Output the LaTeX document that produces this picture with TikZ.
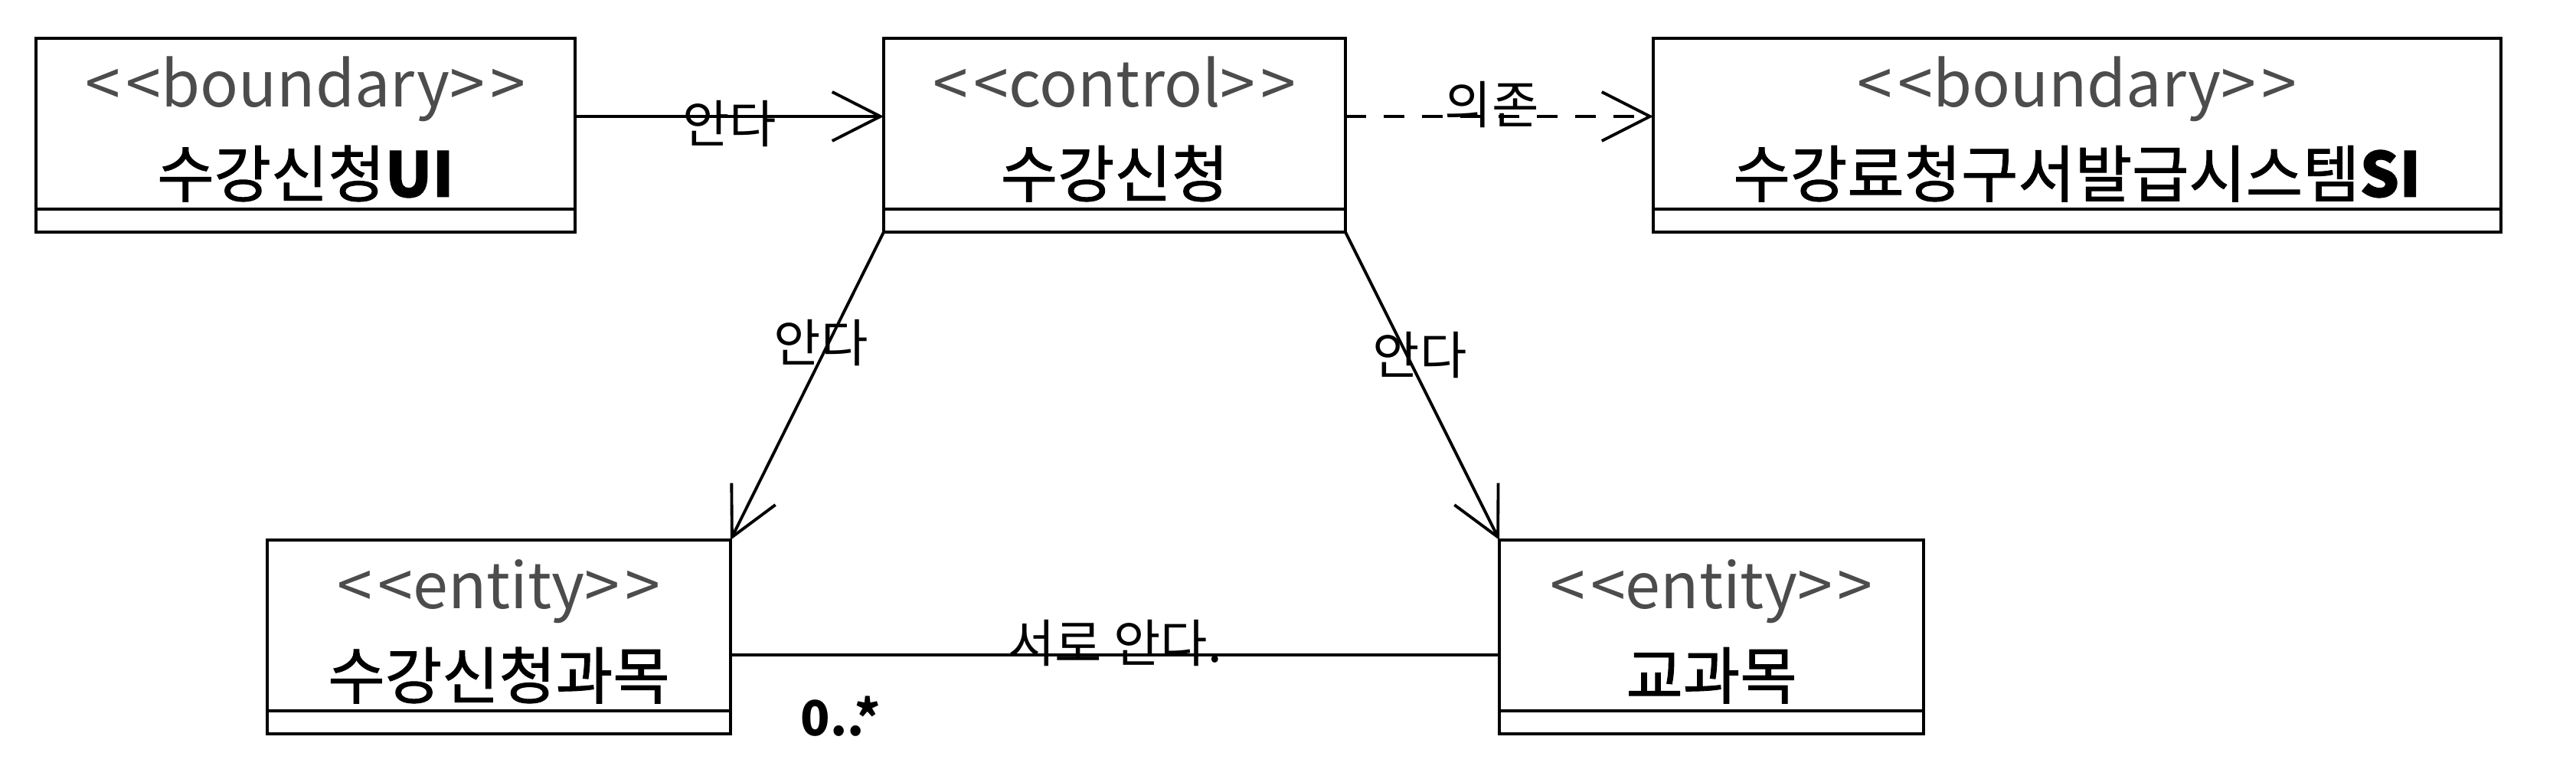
\documentclass[tikz,border=0pt]{standalone}
\usepackage{fontspec}
\setmainfont{Noto Sans CJK KR}
\newfontfamily\namefont{Noto Sans CJK KR}[FakeBold=1.2]
\usetikzlibrary{positioning, arrows.meta}

\tikzset{
  classbox/.style={draw, line width=1.2pt, rectangle, minimum height=2.23cm, inner sep=0pt, outer sep=0pt},
  compbox/.style={draw, line width=1.2pt, rectangle, minimum height=0.30cm, inner sep=0pt, outer sep=0pt},
  stereo/.style={anchor=base, text=black!70, font=\fontsize{23.5}{28}\selectfont},
  cname/.style={anchor=base, font=\namefont\fontsize{23}{28}\selectfont},
  knows/.style={line width=1.1pt, -{Straight Barb[length=6.3mm, width=6.4mm, line width=1.1pt]}},
  depends/.style={knows, dash pattern=on 0.27cm off 0.23cm},
  assoc/.style={line width=1.1pt},
  hand/.style={font=\fontsize{19}{22}\selectfont, inner sep=1pt},
  mult/.style={font=\bfseries\fontsize{18}{22}\selectfont}
}

\begin{document}
\begin{tikzpicture}
\useasboundingbox (0,0) rectangle (33.64,-10);

% Classes

\node[classbox, minimum width=7.04cm, anchor=north west] (ui) at (0.47,-0.50) {};
\node[compbox, minimum width=7.04cm, below=0pt of ui] (ui-c) {};
\node[classbox, minimum width=6.03cm, right=4.03cm of ui] (ctl) {};
\node[compbox, minimum width=6.03cm, below=0pt of ctl] (ctl-c) {};
\node[classbox, minimum width=11.07cm, right=4.02cm of ctl] (si) {};
\node[compbox, minimum width=11.07cm, below=0pt of si] (si-c) {};
\node[classbox, minimum width=6.05cm, below left=4.02cm and 2.00cm of ctl-c.south west] (sub) {};
\node[compbox, minimum width=6.05cm, below=0pt of sub] (sub-c) {};
\node[classbox, minimum width=5.54cm, below right=4.02cm and 2.01cm of ctl-c.south east] (crs) {};
\node[compbox, minimum width=5.54cm, below=0pt of crs] (crs-c) {};

% Stereotypes and Names

\node[stereo] (ui-s) at ([yshift=-0.90cm]ui.north) {<\kern2pt<boundary>\kern2pt>};
\node[cname] (ui-n) at ([yshift=-2.07cm]ui.north) {수강신청\textbf{UI}};
\node[stereo] (ctl-s) at ([yshift=-0.90cm]ctl.north) {<\kern2pt<control>\kern2pt>};
\node[cname] (ctl-n) at ([yshift=-2.07cm]ctl.north) {수강신청};
\node[stereo] (si-s) at ([yshift=-0.90cm]si.north) {<\kern2pt<boundary>\kern2pt>};
\node[cname] (si-n) at ([yshift=-2.07cm]si.north) {수강료청구서발급시스템\textbf{SI}};
\node[stereo] (sub-s) at ([yshift=-0.90cm]sub.north) {<\kern2pt<entity>\kern2pt>};
\node[cname] (sub-n) at ([yshift=-2.07cm]sub.north) {수강신청과목};
\node[stereo] (crs-s) at ([yshift=-0.90cm]crs.north) {<\kern2pt<entity>\kern2pt>};
\node[cname] (crs-n) at ([yshift=-2.07cm]crs.north) {교과목};

% Edges

\draw[knows] ([yshift=-1.02cm]ui.north east) -- ([yshift=-1.02cm]ctl.north west) node[hand, midway, yshift=-0.1cm] (ui-ctl) {안다};
\draw[depends] ([yshift=-1.02cm]ctl.north east) -- ([yshift=-1.02cm]si.north west) node[hand, midway, xshift=-0.1cm, yshift=0.15cm] (ctl-si) {의존};
\draw[knows] (ctl-c.south west) -- (sub.north east) node[hand, pos=0.36, xshift=-0.1cm] (ctl-sub) {안다};
\draw[knows] (ctl-c.south east) -- (crs.north west) node[hand, pos=0.4, xshift=0.17cm] (ctl-crs) {안다};
\draw[assoc] ([yshift=-1.5cm]sub.north east) -- ([yshift=-1.5cm]crs.north west)
  node[hand, midway, yshift=0.15cm] (sub-crs) {서로 안다.}
  node[mult, pos=0.143, yshift=-0.8cm] (sub-m) {0..*};

\end{tikzpicture}
\end{document}
